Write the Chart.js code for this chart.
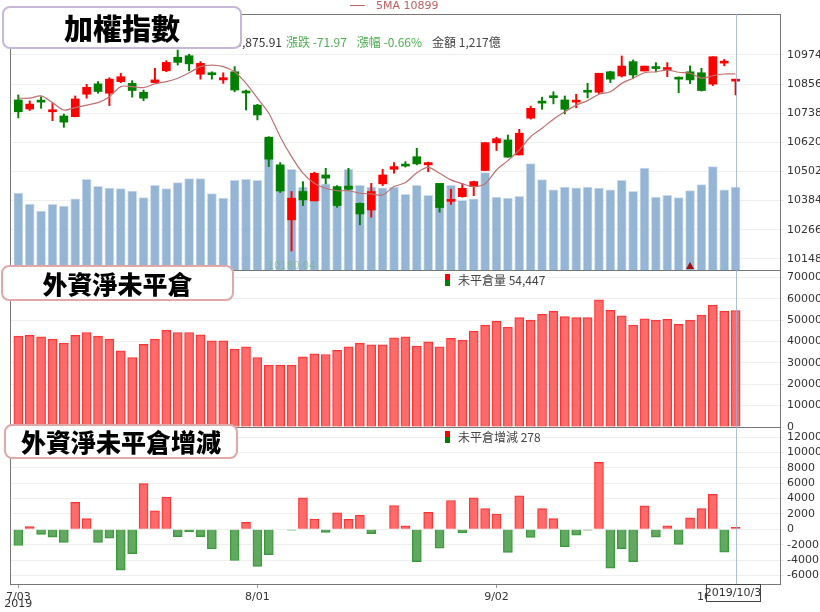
<!DOCTYPE html>
<html>
<head>
<meta charset="utf-8">
<script src="https://cdn.jsdelivr.net/npm/chart.js@4"></script>
<style>
  body { margin: 0; background: #fff; }
  #wrap { width: 820px; height: 612px; }
</style>
</head>
<body>
<div id="wrap"><canvas id="taiexChart" width="820" height="612"></canvas></div>
<script>
'use strict';

const dates = ['7/03','7/04','7/05','7/08','7/09','7/10','7/11','7/12','7/15','7/16','7/17','7/18','7/19','7/22','7/23','7/24','7/25','7/26','7/29','7/30','7/31',
  '8/01','8/02','8/05','8/06','8/07','8/08','8/12','8/13','8/14','8/15','8/16','8/19','8/20','8/21','8/22','8/23','8/26','8/27','8/28','8/29','8/30',
  '9/02','9/03','9/04','9/05','9/06','9/09','9/10','9/11','9/12','9/16','9/17','9/18','9/19','9/20','9/23','9/24','9/25','9/26','9/27',
  '10/01','10/02','10/03'];
const tickLabels = { 0: '7/03', 21: '8/01', 42: '9/02', 61: '10/01' };

const opens = [10792,10755,10786,10744,10727,10724,10815,10857,10819,10866,10859,10823,10862,10910,10965,10971,10896,10898,10873,10906,10822,10771,10641,10529,10306,10421,10383,10488,10441,10443,10373,10346,10452,10511,10526,10562,10529,10454,10381,10400,10441,10506,10618,10630,10569,10718,10782,10804,10792,10783,10826,10823,10906,10889,10947,10909,10921,10915,10882,10906,10902,10856,10941,10868];
const closes = [10744,10775,10783,10751,10702,10796,10843,10826,10876,10886,10830,10799,10873,10944,10944,10938,10940,10894,10882,10832,10820,10731,10552,10423,10394,10387,10495,10475,10364,10430,10330,10421,10488,10522,10524,10533,10538,10356,10385,10434,10461,10619,10635,10560,10657,10758,10779,10801,10754,10787,10823,10900,10876,10929,10893,10929,10919,10918,10876,10873,10830,10967,10945,10876];
const highs = [10812,10788,10805,10778,10735,10808,10855,10866,10882,10900,10870,10832,10920,10951,10994,10977,10947,10906,10902,10927,10832,10774,10643,10538,10421,10461,10499,10515,10445,10515,10375,10454,10511,10538,10542,10596,10540,10454,10430,10454,10463,10619,10641,10650,10673,10767,10803,10825,10808,10815,10859,10900,10908,10970,10954,10929,10943,10943,10885,10930,10920,10967,10956,10876];
const lows = [10719,10749,10758,10708,10681,10723,10799,10819,10769,10862,10803,10789,10862,10906,10933,10910,10876,10876,10859,10825,10751,10711,10522,10417,10180,10364,10383,10452,10357,10427,10286,10317,10445,10495,10520,10529,10501,10337,10369,10398,10404,10506,10587,10560,10569,10714,10754,10776,10735,10760,10800,10818,10862,10885,10880,10909,10905,10886,10821,10858,10828,10850,10930,10812];
const ma5 = [10799,10799,10808,10781,10751,10761,10771,10781,10805,10846,10846,10842,10857,10866,10880,10902,10927,10933,10927,10906,10859,10799,10738,10643,10562,10495,10454,10434,10424,10424,10414,10411,10407,10441,10457,10497,10519,10495,10468,10452,10441,10452,10508,10546,10589,10643,10677,10714,10744,10771,10789,10815,10825,10859,10880,10902,10906,10913,10904,10900,10880,10890,10897,10897];
const volume = [1129,968,865,963,938,1045,1330,1227,1202,1192,1158,1060,1241,1192,1280,1339,1339,1119,1055,1315,1330,1315,1916,1510,1476,1217,1388,1265,1192,1476,1241,1217,1206,1217,1109,1241,1095,1231,1241,1021,1045,1427,1070,1055,1080,1559,1324,1177,1217,1206,1217,1202,1177,1315,1153,1495,1070,1095,1060,1163,1251,1515,1177,1217];
const openInterest = [42500,42800,42200,41100,39200,42800,44200,42500,41100,35600,32500,38600,41100,45300,44200,44200,43100,40300,40300,36400,37500,32500,28900,28900,28900,32800,34200,33900,35900,37500,39200,38400,38400,41700,42200,37800,39800,37500,41400,40600,44800,47700,49500,46700,51100,50000,52700,54200,51600,51100,51100,59500,54500,52000,47700,50600,50000,50300,48000,50000,52300,57000,54200,54447];
const oiChange = [-2100,350,-650,-1000,-1700,3500,1400,-1700,-1150,-5300,-3150,5950,2400,4200,-950,-300,-950,-2550,0,-4050,900,-4800,-3300,0,-100,4100,1350,-400,2150,1300,1850,-550,0,3100,450,-4200,2200,-2450,3750,-450,4100,2700,2000,-3000,4350,-1050,2700,1400,-2250,-750,-100,8700,-5050,-2500,-4200,3050,-1000,450,-1950,1500,2700,4550,-2950,278];

const priceTicks = [10148,10266,10384,10502,10620,10738,10856,10974];
const oiTicks = [0,10000,20000,30000,40000,50000,60000,70000];
const changeTicks = [-6000,-4000,-2000,0,2000,4000,6000,8000,10000,12000];

const RED = '#ff0000';
const GREEN = '#008000';
const upDown = (i) => closes[i] >= opens[i] ? RED : GREEN;

const bodies = dates.map((d, i) => ({ x: i, y: [opens[i], closes[i]] }));
const wicks = dates.map((d, i) => ({ x: i, y: [lows[i], highs[i]] }));
const maPts = ma5.map((v, i) => ({ x: i, y: v }));
const volPts = volume.map((v, i) => ({ x: i, y: v }));
const oiPts = openInterest.map((v, i) => ({ x: i, y: v }));
const chgPts = oiChange.map((v, i) => ({ x: i, y: v }));

function fixTicks (list) {
  return function (axis) { axis.ticks = list.map(v => ({ value: v })); };
}
function fitWidth (axis) { axis.width = 40; }
function rightAxis (weight, min, max, ticks) {
  return {
    position: 'right', stack: 'panels', stackWeight: weight, min: min, max: max,
    afterBuildTicks: fixTicks(ticks), afterFit: fitWidth,
    ticks: { autoSkip: false, color: '#333', font: { size: 11, family: 'DejaVu Sans' }, padding: 3,
      callback: (v) => String(v) },
    grid: { color: '#efefef', tickLength: 4 },
    border: { color: '#777' }
  };
}

const overlay = {
  id: 'overlay',
  afterDraw (chart) {
    const c = chart.ctx;
    const a = chart.chartArea;
    const xs = chart.scales.x;
    const py = chart.scales.y;
    c.save();

    // panel frames
    c.strokeStyle = '#777';
    c.lineWidth = 1;
    c.strokeRect(a.left + 0.5, a.top + 0.5, a.right - a.left, a.bottom - a.top);
    [chart.scales.yOi.top, chart.scales.yChg.top].forEach(y => {
      c.beginPath(); c.moveTo(a.left, Math.round(y) + 0.5); c.lineTo(a.right, Math.round(y) + 0.5); c.stroke();
    });

    // crosshair on last day
    const lx = Math.round(xs.getPixelForValue(63)) + 0.5;
    c.strokeStyle = 'rgba(150,175,215,0.8)';
    c.beginPath(); c.moveTo(lx, a.top); c.lineTo(lx, a.bottom); c.stroke();

    // lowest point label
    c.font = '10px "DejaVu Sans"';
    c.fillStyle = 'rgba(120,180,120,0.6)';
    c.textAlign = 'center';
    c.fillText('10180.04', xs.getPixelForValue(24), py.getPixelForValue(10108));

    // marker triangle
    const tx = xs.getPixelForValue(59);
    c.fillStyle = '#a01010';
    c.beginPath(); c.moveTo(tx, 262); c.lineTo(tx - 4, 269); c.lineTo(tx + 4, 269); c.closePath(); c.fill();

    // top legend for 5MA
    c.strokeStyle = '#c06060';
    c.beginPath(); c.moveTo(350, 5.5); c.lineTo(365, 5.5); c.stroke();
    c.font = '11px "DejaVu Sans"';
    c.textAlign = 'left';
    c.fillStyle = '#c06060';
    c.fillText('5MA 10899', 376, 9);

    // quote line
    c.font = '12px "Noto Sans CJK TC"';
    c.textBaseline = 'middle';
    let x = 282;
    c.textAlign = 'right';
    c.fillStyle = '#333';
    c.fillText('收盤 10,875.91', x, 42);
    c.textAlign = 'left';
    x += 4;
    const parts = [['漲跌 -71.97', '#4caf50'], ['漲幅 -0.66%', '#4caf50'], ['金額 1,217億', '#444']];
    parts.forEach(p => {
      c.fillStyle = p[1];
      c.fillText(p[0], x, 42);
      x += c.measureText(p[0]).width + 10;
    });

    // sub legends
    function subLegend (y, text) {
      c.fillStyle = RED; c.fillRect(445, y - 6, 5, 6);
      c.fillStyle = GREEN; c.fillRect(445, y, 5, 6);
      c.fillStyle = '#444';
      c.font = '12px "Noto Sans CJK TC"';
      c.fillText(text, 458, y);
    }
    subLegend(280, '未平倉量 54,447');
    subLegend(437, '未平倉增減 278');

    // "2019" under first date and date tag
    c.font = '11px "DejaVu Sans"';
    c.fillStyle = '#333';
    c.textAlign = 'center';
    c.fillText('2019', xs.getPixelForValue(0), 604);
    c.fillStyle = '#fff';
    c.fillRect(706.5, 584.5, 54, 17);
    c.strokeStyle = '#444';
    c.strokeRect(706.5, 584.5, 54, 17);
    c.fillStyle = '#333';
    c.fillText('2019/10/3', 733, 593);

    // title boxes
    function titleBox (x0, y0, w, h, border, text, size) {
      c.fillStyle = '#fff';
      c.strokeStyle = border;
      c.lineWidth = 2;
      c.beginPath();
      c.roundRect(x0, y0, w, h, 7);
      c.fill(); c.stroke();
      c.fillStyle = '#000';
      c.font = '900 ' + size + 'px "Noto Sans CJK TC"';
      c.textAlign = 'center';
      c.fillText(text, x0 + w / 2, y0 + h / 2 + 1);
    }
    titleBox(3, 7, 238, 41, '#c8b8d8', '加權指數', 29);
    titleBox(2, 266, 231, 34, '#e0a8a8', '外資淨未平倉', 25);
    titleBox(5, 425, 232, 33, '#e0a8a8', '外資淨未平倉增減', 25);
    c.restore();
  }
};

const ctx = document.getElementById('taiexChart').getContext('2d');
new Chart(ctx, {
  data: {
    datasets: [
      {
        type: 'line', label: '5MA', data: maPts, yAxisID: 'y', order: 1,
        borderColor: '#c07070', borderWidth: 1.2, pointRadius: 0, tension: 0.3
      },
      {
        type: 'bar', label: 'body', data: bodies, yAxisID: 'y', order: 2,
        backgroundColor: (c) => upDown(c.dataIndex), barThickness: 8,
        minBarLength: 2, grouped: false, borderSkipped: false
      },
      {
        type: 'bar', label: 'wick', data: wicks, yAxisID: 'y', order: 3,
        backgroundColor: (c) => upDown(c.dataIndex), barThickness: 1.3, grouped: false
      },
      {
        type: 'bar', label: 'volume', data: volPts, yAxisID: 'yVol', order: 5,
        backgroundColor: 'rgba(138,173,208,0.9)', borderColor: 'rgba(205,220,238,1)',
        borderWidth: 1, barThickness: 9, grouped: false
      },
      {
        type: 'bar', label: 'oi', data: oiPts, yAxisID: 'yOi', order: 4,
        backgroundColor: 'rgba(255,90,90,0.9)', borderColor: '#ff3030',
        borderWidth: 1, barThickness: 9, grouped: false
      },
      {
        type: 'bar', label: 'chg', data: chgPts, yAxisID: 'yChg', order: 4,
        backgroundColor: (c) => oiChange[c.dataIndex] >= 0 ? 'rgba(255,90,90,0.9)' : 'rgba(80,160,80,0.9)',
        borderColor: (c) => oiChange[c.dataIndex] >= 0 ? '#ff3030' : '#3a9a3a',
        borderWidth: 1, barThickness: 9, grouped: false
      }
    ]
  },
  options: {
    responsive: false,
    animation: false,
    layout: { padding: { left: 10, top: 14, right: 0, bottom: 0 } },
    plugins: { legend: { display: false }, tooltip: { enabled: false } },
    scales: {
      x: {
        type: 'linear', min: -0.73, max: 66.9, offset: false,
        afterBuildTicks: (axis) => { axis.ticks = Object.keys(tickLabels).map(k => ({ value: +k })); },
        afterFit: (axis) => { axis.height = 28; },
        ticks: {
          autoSkip: false, maxRotation: 0, color: '#333', font: { size: 11, family: 'DejaVu Sans' },
          callback: (v) => tickLabels[v] || ''
        },
        grid: { drawOnChartArea: false, offset: false, tickLength: 4, color: '#999' },
        border: { color: '#777' }
      },
      y: rightAxis(256, 10103, 11140, priceTicks),
      yOi: rightAxis(157, 0, 73400, oiTicks),
      yChg: rightAxis(157, -7100, 13300, changeTicks),
      yVol: { display: false, min: -4603, max: 3753 }
    }
  },
  plugins: [overlay]
});
</script>
</body>
</html>
